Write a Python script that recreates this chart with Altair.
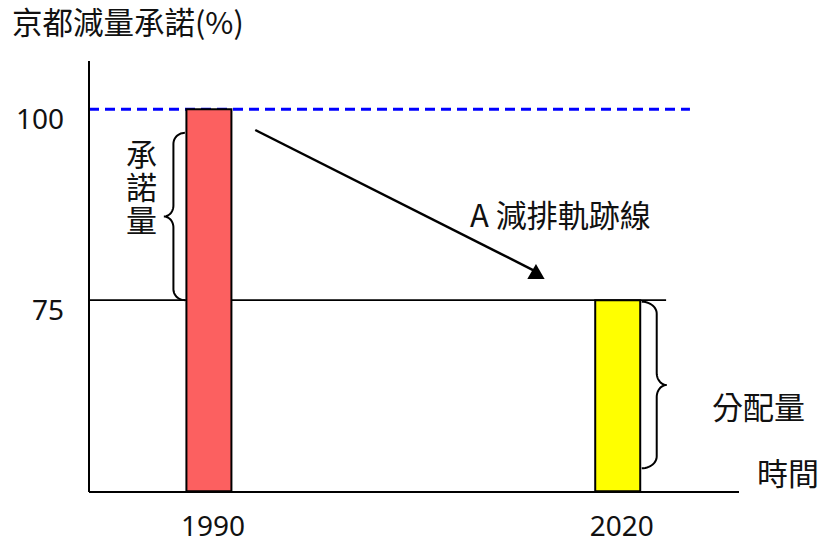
import altair as alt
import numpy as np
import pandas as pd

# ---- data -------------------------------------------------------------
years = [1990, 2020]                 # benchmark year / target year
levels = [100, 75]                   # emission level (%)
bar_colors = ["#fc6060", "#ffff00"]
BASELINE = 50                        # bottom of the value axis

x_ticks = [1990, 2020]
x_tick_labels = ["1990", "2020"]
y_ticks = [100, 75]
y_tick_labels = ["100", "75"]

commit_level = 100                   # dashed reference (1990 level)
target_level = 75                    # allocated level

# ---- scales -------------------------------------------------------------
X_DOMAIN = [1981.2, 2028.9]
Y_DOMAIN = [49.9, 106.3]
PLOT_W, PLOT_H = 650, 431
KX = PLOT_W / (X_DOMAIN[1] - X_DOMAIN[0])
KY = PLOT_H / (Y_DOMAIN[1] - Y_DOMAIN[0])

FONT = "Noto Sans CJK TC"
NUM_FONT = "Noto Sans"
INK = "#111111"

xs = alt.Scale(domain=X_DOMAIN, nice=False, zero=False, padding=0)
ys = alt.Scale(domain=Y_DOMAIN, nice=False, zero=False, padding=0)


def X(field):
    return alt.X(field, scale=xs, axis=None)


def Y(field):
    return alt.Y(field, scale=ys, axis=None)


def px_x(v):
    return (v - X_DOMAIN[0]) * KX


def px_y(v):
    return (Y_DOMAIN[1] - v) * KY


def data_x(p):
    return X_DOMAIN[0] + p / KX


def data_y(p):
    return Y_DOMAIN[1] - p / KY


def brace(name, x_edge, side, y_top, y_bot, w1, w2, r, n=14):
    """Curly brace drawn as a polyline; side=-1 points left, +1 right."""
    xe, yt, yb = px_x(x_edge), px_y(y_top), px_y(y_bot)
    ym = (yt + yb) / 2
    up = np.linspace(0, np.pi / 2, n)
    down = up[::-1]
    pts = []
    pts += [(xe + side * w1 * np.sin(a), yt + r * (1 - np.cos(a))) for a in up]
    pts += [(xe + side * (w1 + w2 * (1 - np.cos(a))), ym - r * (1 - np.sin(a))) for a in up]
    pts += [(xe + side * (w1 + w2 * (1 - np.cos(a))), ym + r * (1 - np.sin(a))) for a in down]
    pts += [(xe + side * w1 * np.sin(a), yb - r * (1 - np.cos(a))) for a in down]
    return pd.DataFrame({
        "brace": name,
        "i": range(len(pts)),
        "x": [data_x(p[0]) for p in pts],
        "y": [data_y(p[1]) for p in pts],
    })


half_bar = 24 / KX
braces = pd.concat([
    brace("commit", years[0] - half_bar, -1, 96.9, target_level, 11.5, 9.5, 11),
    brace("alloc", years[1] + half_bar, 1, 74.8, 53.0, 15, 10, 12),
])

bars = pd.DataFrame({"year": years, "level": levels, "base": BASELINE, "color": bar_colors})

# ---- axes (drawn as marks) ----------------------------------------------
axis_lines = pd.DataFrame({
    "x": [X_DOMAIN[0], X_DOMAIN[0]],
    "x2": [X_DOMAIN[0], X_DOMAIN[1]],
    "y": [Y_DOMAIN[0], Y_DOMAIN[0]],
    "y2": [Y_DOMAIN[1], Y_DOMAIN[0]],
})
axis_layer = alt.Chart(axis_lines).mark_rule(color="black", strokeWidth=2).encode(
    x=X("x:Q"), x2="x2:Q", y=Y("y:Q"), y2="y2:Q"
)

x_labels = alt.Chart(pd.DataFrame({"x": x_ticks, "label": x_tick_labels, "y": Y_DOMAIN[0]})).mark_text(
    font=NUM_FONT, fontSize=28, color=INK, align="center", baseline="middle", dx=4, dy=36
).encode(x=X("x:Q"), y=Y("y:Q"), text="label:N")

y_labels = alt.Chart(pd.DataFrame({"y": y_ticks, "label": y_tick_labels, "x": X_DOMAIN[0]})).mark_text(
    font=NUM_FONT, fontSize=28, color=INK, align="right", baseline="middle", dx=-25, dy=12
).encode(x=X("x:Q"), y=Y("y:Q"), text="label:N")

y_title = alt.Chart(pd.DataFrame({"t": ["京都減量承諾(%)"]})).mark_text(
    font=FONT, fontSize=30.5, color=INK, align="left", baseline="middle"
).encode(x=alt.value(-77), y=alt.value(-36), text="t:N")

x_title = alt.Chart(pd.DataFrame({"t": ["時間"]})).mark_text(
    font=FONT, fontSize=31, color=INK, align="left", baseline="middle"
).encode(x=alt.value(668), y=alt.value(PLOT_H - 16), text="t:N")

# ---- marks ----------------------------------------------------------------
commit_rule = alt.Chart(pd.DataFrame({"x": [X_DOMAIN[0]], "x2": [2025.3], "y": [commit_level]})).mark_rule(
    color="#0000ff", strokeWidth=3, strokeDash=[10, 6]
).encode(x=X("x:Q"), x2="x2:Q", y=Y("y:Q"))

target_rule = alt.Chart(pd.DataFrame({"x": [X_DOMAIN[0]], "x2": [2023.55], "y": [target_level]})).mark_rule(
    color="black", strokeWidth=1.8
).encode(x=X("x:Q"), x2="x2:Q", y=Y("y:Q"))

bar_layer = alt.Chart(bars).mark_bar(size=45, stroke="black", strokeWidth=2).encode(
    x=X("year:Q"), y=Y("level:Q"), y2="base:Q", color=alt.Color("color:N", scale=None)
)

brace_layer = alt.Chart(braces).mark_line(color="black", strokeWidth=2).encode(
    x=X("x:Q"), y=Y("y:Q"), detail="brace:N", order="i:Q"
)

# reduction path arrow
arrow = pd.DataFrame({"x": [1993.4, 2014.0], "y": [97.27, 78.75], "i": [0, 1]})
arrow_line = alt.Chart(arrow).mark_line(color="black", strokeWidth=2.5).encode(
    x=X("x:Q"), y=Y("y:Q"), order="i:Q"
)
arrow_head = alt.Chart(arrow.iloc[[1]]).mark_point(
    shape="triangle-up", size=300, filled=True, color="black", opacity=1
).encode(x=X("x:Q"), y=Y("y:Q"))

notes = pd.DataFrame({
    "x": [1985.05, 2030.33, 2009.16],
    "y": [93.7, 60.63, 85.82],
    "text": ["承\n諾\n量", "分配量", "A 減排軌跡線"],
})
note_center = alt.Chart(notes.iloc[:2]).mark_text(
    font=FONT, fontSize=31, color=INK, align="center", baseline="middle",
    lineBreak="\n", lineHeight=33,
).encode(x=X("x:Q"), y=Y("y:Q"), text="text:N")
note_left = alt.Chart(notes.iloc[2:]).mark_text(
    font=FONT, fontSize=31, color=INK, align="left", baseline="middle",
).encode(x=X("x:Q"), y=Y("y:Q"), text="text:N")

chart = alt.layer(
    commit_rule, target_rule, bar_layer, axis_layer, brace_layer, arrow_line, arrow_head,
    note_center, note_left, x_labels, y_labels, y_title, x_title,
).properties(
    width=PLOT_W, height=PLOT_H,
    autosize=alt.AutoSizeParams(type="none"),
    padding={"left": 89, "top": 61, "right": 85, "bottom": 55},
    background="white",
).configure_view(stroke=None)

chart.save("out.html", embed_options={"renderer": "svg", "actions": False})
